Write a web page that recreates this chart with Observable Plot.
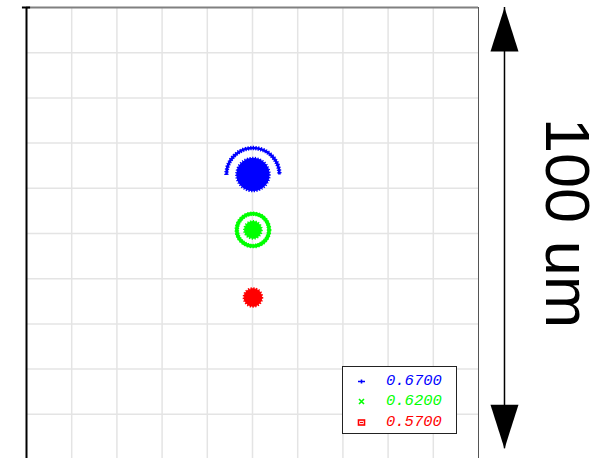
<!DOCTYPE html>
<html>
<head>
<meta charset="utf-8">
<script src="https://cdn.jsdelivr.net/npm/d3@7"></script>
<script src="https://cdn.jsdelivr.net/npm/@observablehq/plot@0.6"></script>
<style>
  html, body { margin: 0; padding: 0; background: #fff; }
  #wrap { position: relative; width: 612px; height: 458px; overflow: hidden; }
  #wrap svg { overflow: visible; }
  .legend { position: absolute; border: 1px solid #222; background: #fff; box-sizing: border-box; }
  .legend .row { position: absolute; left: 0; height: 20px; font-family: "Liberation Mono", "DejaVu Sans Mono", monospace; font-style: italic; font-size: 15.5px; line-height: 20px; font-variant-numeric: slashed-zero; font-feature-settings: "zero" 1; }
  .legend .row svg { position: absolute; left: 14px; top: 6px; }
  .legend .row span { position: absolute; left: 43px; top: 0; }
</style>
</head>
<body>
<div id="wrap"></div>
<script>
// ---- data (micrometres, image-plane coordinates relative to the box centre) ----
const wavelengths = ["0.6700", "0.6200", "0.5700"];
const spotColors  = ["#0000ff", "#00ff00", "#ff0000"];
const spotSymbols = ["plus", "times", "square"];
const spotX       = [0.1, 0.1, 0.1];
const spotY       = [13.05, 0.8, -14.15];
const coreRadius  = [3.6, 1.85, 1.95];   // filled central core
const ringRadius  = [5.86, 3.57, 0];     // outer halo (blue: partial arc, green: full ring)
const arcSpanDeg  = 184;                 // angular extent of the blue upper arc
const gridTicks   = [-40, -30, -20, -10, 0, 10, 20, 30, 40];
const boxLimits   = [-50, 50];
const scaleBarLabel = "100 um";
const scaleBarX = 55.75, scaleBarTop = 50, scaleBarBottom = -47.6, scaleBarTextX = 69.4, scaleBarTextY = 2.3;

const spots = wavelengths.map((w, i) => ({
  w, color: spotColors[i], x: spotX[i], y: spotY[i], core: coreRadius[i], ring: ringRadius[i]
}));

// dash patterns for the partial (upper) arc: SVG circles start at 3 o'clock going clockwise
const pxPerUm = 452 / 100;
const arcR = ringRadius[0] * pxPerUm;
const circ = 2 * Math.PI * arcR;
const startLen = circ * (180 - (arcSpanDeg - 180) / 2) / 360;
const spanLen = circ * arcSpanDeg / 360;
const arcDash = `0,${startLen},${spanLen},${circ}`;
// textured fringe along the same arc
const fringeParts = ["0", String(startLen)];
for (let s = 0; s < spanLen - 1.2; s += 2.6) fringeParts.push("1.2", "1.4");
fringeParts.push("0", String(circ));
const arcFringe = fringeParts.join(",");

const headUp = { draw(ctx) { ctx.moveTo(0, 0); ctx.lineTo(-14, 44); ctx.lineTo(14, 44); ctx.closePath(); } };

const plot = Plot.plot({
  width: 612, height: 458,
  x: { domain: boxLimits, range: [26, 478], axis: null },
  y: { domain: boxLimits, range: [459, 7], axis: null },
  r: { type: "linear", domain: [0, 100], range: [0, 452] },
  style: { background: "#fff", overflow: "visible" },
  marks: [
    // grid
    Plot.ruleX(gridTicks, { y1: boxLimits[0], y2: boxLimits[1], stroke: "#e4e4e4", strokeWidth: 1.5 }),
    Plot.ruleY(gridTicks, { x1: boxLimits[0], x2: boxLimits[1], stroke: "#e4e4e4", strokeWidth: 1.5 }),
    // box
    Plot.ruleY([boxLimits[1]], { x1: boxLimits[0], x2: boxLimits[1], stroke: "#808080", strokeWidth: 2 }),
    Plot.ruleX([boxLimits[1]], { y1: boxLimits[0], y2: boxLimits[1], stroke: "#555", strokeWidth: 1 }),
    Plot.ruleX([boxLimits[0]], { y1: boxLimits[0], y2: boxLimits[1], stroke: "#000", strokeWidth: 2 }),
    Plot.ruleY([boxLimits[1]], { x1: boxLimits[0] - 0.9, x2: boxLimits[0] + 0.9, stroke: "#000", strokeWidth: 2 }),
    // halos
    Plot.dot(spots.filter(d => d.w === wavelengths[0]), { x: "x", y: "y", r: "ring", stroke: "color", fill: "none", strokeWidth: 2.6, strokeDasharray: arcDash }),
    Plot.dot(spots.filter(d => d.w === wavelengths[0]), { x: "x", y: "y", r: "ring", stroke: "color", fill: "none", strokeWidth: 4.4, strokeDasharray: arcFringe }),
    Plot.dot(spots.filter(d => d.w === wavelengths[1]), { x: "x", y: "y", r: "ring", stroke: "color", fill: "none", strokeWidth: 3.6 }),
    Plot.dot(spots.filter(d => d.w === wavelengths[1]), { x: "x", y: "y", r: "ring", stroke: "color", fill: "none", strokeWidth: 4.6, strokeDasharray: "1.2,1.5" }),
    // cores
    Plot.dot(spots, { x: "x", y: "y", r: "core", fill: "color", stroke: "color", strokeWidth: 1 }),
    Plot.dot(spots, { x: "x", y: "y", r: "core", fill: "none", stroke: "color", strokeWidth: 3, strokeDasharray: "1.2,1.4" }),
    // scale bar
    Plot.ruleX([scaleBarX], { y1: scaleBarTop, y2: scaleBarBottom, stroke: "#000", strokeWidth: 1.5 }),
    Plot.dot([scaleBarTop, scaleBarBottom], { x: () => scaleBarX, y: d => d, symbol: headUp, rotate: (d, i) => i === 0 ? 0 : 180, fill: "#000", stroke: "none", r: 1 }),
    Plot.text([scaleBarLabel], { x: () => scaleBarTextX, y: () => scaleBarTextY, text: d => d, rotate: 90, fontSize: 63, fontFamily: "Liberation Sans, Arial, sans-serif", fill: "#000" })
  ]
});

const wrap = document.getElementById("wrap");
wrap.appendChild(plot);

// legend (overlay inside the plot box)
const legend = document.createElement("div");
legend.className = "legend";
Object.assign(legend.style, { left: "342px", top: "366px", width: "115px", height: "68px" });
const markerSvg = {
  plus:  '<svg width="9" height="9"><path d="M1,4.5H8M4.5,2.5V6.5" stroke="#0000ff" stroke-width="1.6"/></svg>',
  times: '<svg width="9" height="9"><path d="M2,2L7,7M7,2L2,7" stroke="#00ff00" stroke-width="1.6"/></svg>',
  square:'<svg width="9" height="9"><rect x="1.5" y="2" width="6" height="5" fill="none" stroke="#ff0000" stroke-width="1.6"/><path d="M3,4.5H6" stroke="#ff0000" stroke-width="1.2"/></svg>'
};
const rowTops = [4, 24, 45];
wavelengths.forEach((w, i) => {
  const row = document.createElement("div");
  row.className = "row";
  row.style.top = rowTops[i] + "px";
  row.style.width = "100%";
  row.style.color = spotColors[i];
  row.innerHTML = markerSvg[spotSymbols[i]] + "<span>" + w + "</span>";
  legend.appendChild(row);
});
wrap.appendChild(legend);
</script>
</body>
</html>
